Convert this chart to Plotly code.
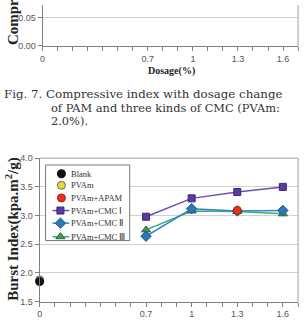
import plotly.graph_objects as go

dosage = [0.7, 1.0, 1.3, 1.6]
blank_x, blank_y = [0], [1.85]
pvam_x, pvam_y = [0], [1.88]
apam_x, apam_y = [1.3], [3.09]
cmc1 = [2.98, 3.30, 3.41, 3.50]
cmc2 = [2.64, 3.12, 3.08, 3.09]
cmc3 = [2.75, 3.08, 3.07, 3.03]
tick_vals = [0, 0.7, 1.0, 1.3, 1.6]
tick_text = ["0", "0.7", "1", "1.3", "1.6"]
legend_names = ["Blank", "PVAm", "PVAm+APAM", "PVAm+CMC Ⅰ", "PVAm+CMC Ⅱ", "PVAm+CMC Ⅲ"]

W, H = 304, 328
SERIF = "Liberation Serif"
SANS = "Liberation Sans"

def px_x(p):
    return p / W

def px_y(p):
    return 1 - p / H

styles = {
    "Blank": dict(marker=dict(symbol="circle", size=9, color="#111111"), line=None),
    "PVAm": dict(marker=dict(symbol="circle", size=8, color="#e8d83a", line=dict(color="#666", width=1)), line=None),
    "PVAm+APAM": dict(marker=dict(symbol="circle", size=8, color="#e8321e", line=dict(color="#a02010", width=1)), line=None),
    "PVAm+CMC Ⅰ": dict(marker=dict(symbol="square", size=7, color="#5a3aa6", line=dict(color="#3a2a70", width=1)),
                      line=dict(color="#6a4fb5", width=1.5)),
    "PVAm+CMC Ⅱ": dict(marker=dict(symbol="diamond", size=8, color="#2a78b8", line=dict(color="#1f5a8a", width=1)),
                      line=dict(color="#2f86c8", width=1.5)),
    "PVAm+CMC Ⅲ": dict(marker=dict(symbol="triangle-up", size=8, color="#3a9a4e", line=dict(color="#2a6a3a", width=1)),
                      line=dict(color="#3aaa7a", width=1.5)),
}

fig = go.Figure()

# main chart traces
fig.add_trace(go.Scatter(x=pvam_x, y=pvam_y, mode="markers", name="PVAm",
                         marker=styles["PVAm"]["marker"], cliponaxis=False))
fig.add_trace(go.Scatter(x=blank_x, y=blank_y, mode="markers", name="Blank",
                         marker=styles["Blank"]["marker"], cliponaxis=False))
fig.add_trace(go.Scatter(x=dosage, y=cmc1, mode="lines+markers", name="PVAm+CMC Ⅰ",
                         line=styles["PVAm+CMC Ⅰ"]["line"], marker=styles["PVAm+CMC Ⅰ"]["marker"]))
fig.add_trace(go.Scatter(x=dosage, y=cmc3, mode="lines+markers", name="PVAm+CMC Ⅲ",
                         line=styles["PVAm+CMC Ⅲ"]["line"], marker=styles["PVAm+CMC Ⅲ"]["marker"]))
fig.add_trace(go.Scatter(x=dosage, y=cmc2, mode="lines+markers", name="PVAm+CMC Ⅱ",
                         line=styles["PVAm+CMC Ⅱ"]["line"], marker=styles["PVAm+CMC Ⅱ"]["marker"]))
fig.add_trace(go.Scatter(x=apam_x, y=apam_y, mode="markers", name="PVAm+APAM",
                         marker=styles["PVAm+APAM"]["marker"]))

# dummy trace for top partial chart
fig.add_trace(go.Scatter(x=[None], y=[None], xaxis="x2", yaxis="y2"))

# manual legend on pixel overlay axes
lx0, lx1, ly0, ly1 = 43, 128, 165, 243
fig.add_trace(go.Scatter(x=[lx0, lx1, lx1, lx0, lx0], y=[ly0, ly0, ly1, ly1, ly0], mode="lines",
                         fill="toself", fillcolor="white", line=dict(color="#777", width=1),
                         xaxis="x3", yaxis="y3", hoverinfo="skip"))
row_y = [174, 186, 199, 212, 225, 239]
annotations = []
for name, ry in zip(legend_names, row_y):
    st = styles[name]
    if st["line"] is not None:
        fig.add_trace(go.Scatter(x=[50, 67], y=[ry, ry], mode="lines", line=st["line"],
                                 xaxis="x3", yaxis="y3", hoverinfo="skip"))
        mx = 58
    else:
        mx = 59
    fig.add_trace(go.Scatter(x=[mx], y=[ry], mode="markers", marker=st["marker"],
                             xaxis="x3", yaxis="y3", hoverinfo="skip"))
    annotations.append(dict(text=name, x=px_x(67), y=px_y(ry), xref="paper", yref="paper",
                            font=dict(family=SERIF, size=8.5, color="#333"), showarrow=False,
                            xanchor="left", yanchor="middle"))

axis_line = "#808080"
tickfont = dict(family=SANS, size=9, color="#555")
CLEAR = "rgba(0,0,0,0)"

fig.update_layout(
    width=W, height=H, margin=dict(l=0, r=0, t=0, b=0),
    paper_bgcolor="white", plot_bgcolor=CLEAR, showlegend=False,
    xaxis=dict(domain=[px_x(37), px_x(298)], range=[0, 1.7], tickvals=tick_vals, ticktext=tick_text,
               showgrid=False, zeroline=False, showline=True, linecolor=axis_line,
               ticks="outside", ticklen=4, tickcolor=axis_line, tickfont=tickfont,
               minor=dict(dtick=0.1, tick0=0, ticks="outside", ticklen=4, tickcolor=axis_line, showgrid=False)),
    yaxis=dict(domain=[22 / H, 170 / H], range=[1.5, 4.0], dtick=0.5, tickformat=".1f",
               showgrid=True, gridcolor="#d0d0d0", zeroline=False, showline=True, linecolor=axis_line,
               ticks="outside", ticklen=4, tickcolor=axis_line, tickfont=tickfont),
    xaxis2=dict(domain=[px_x(40), px_x(298)], range=[0, 1.7], anchor="y2", tickvals=tick_vals, ticktext=tick_text,
                showgrid=False, zeroline=False, showline=True, linecolor=axis_line,
                ticks="outside", ticklen=4, tickcolor=axis_line, tickfont=tickfont,
                minor=dict(dtick=0.1, tick0=0, ticks="outside", ticklen=4, tickcolor=axis_line, showgrid=False)),
    yaxis2=dict(domain=[1 - 42 / H, 1], range=[0, 0.05 * 42 / 29], anchor="x2", tickvals=[0, 0.05],
                tickformat=".2f", showgrid=True, gridcolor="#d0d0d0", zeroline=False, showline=True,
                linecolor=axis_line, ticks="outside", ticklen=4, tickcolor=axis_line, tickfont=tickfont),
    xaxis3=dict(domain=[0, 1], range=[0, W], anchor="y3", visible=False, fixedrange=True),
    yaxis3=dict(domain=[0, 1], range=[H, 0], anchor="x3", visible=False, fixedrange=True),
)

shapes = [
    dict(type="line", xref="paper", yref="paper", x0=px_x(37), x1=px_x(298), y0=170 / H, y1=170 / H,
         line=dict(color="#a0a0a0", width=1)),
    dict(type="line", xref="paper", yref="paper", x0=px_x(298), x1=px_x(298), y0=22 / H, y1=170 / H,
         line=dict(color="#a0a0a0", width=1)),
    dict(type="line", xref="paper", yref="paper", x0=px_x(298), x1=px_x(298), y0=1 - 42 / H, y1=1,
         line=dict(color="#a0a0a0", width=1)),
]
fig.update_layout(shapes=shapes)

CAP = "DejaVu Serif"
annotations += [
    dict(text="<b>Burst Index(kpa.m<sup>2</sup>/g)</b>", x=px_x(10), y=px_y(231), textangle=-90,
         font=dict(family=SERIF, size=15, color="#222"), showarrow=False, xanchor="center", yanchor="middle"),
    dict(text="<b>Compressive Index</b>", x=px_x(10), y=px_y(43), textangle=-90,
         font=dict(family=SERIF, size=15, color="#222"), showarrow=False, xanchor="center", yanchor="bottom"),
    dict(text="<b>Dosage(%)</b>", x=px_x(170), y=px_y(68), font=dict(family=SERIF, size=10, color="#222"),
         showarrow=False, xanchor="center", yanchor="middle"),
    dict(text="Fig. 7. Compressive index with dosage change", x=px_x(-1), y=px_y(92),
         font=dict(family=CAP, size=11.8, color="#333"), showarrow=False, xanchor="left", yanchor="middle"),
    dict(text="of PAM and three kinds of CMC (PVAm:", x=px_x(46), y=px_y(106),
         font=dict(family=CAP, size=11.4, color="#333"), showarrow=False, xanchor="left", yanchor="middle"),
    dict(text="2.0%).", x=px_x(46), y=px_y(120),
         font=dict(family=CAP, size=11.4, color="#333"), showarrow=False, xanchor="left", yanchor="middle"),
]
for a in annotations:
    a["xref"] = "paper"
    a["yref"] = "paper"
fig.update_layout(annotations=annotations)

fig.write_html("out.html")
